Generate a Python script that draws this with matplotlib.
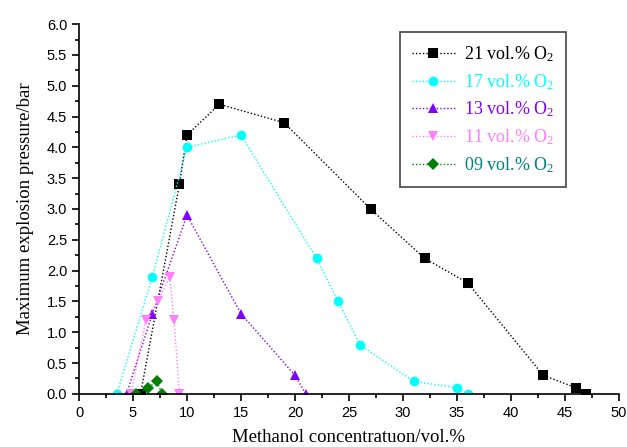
import matplotlib
matplotlib.use("Agg")
import matplotlib.pyplot as plt
from matplotlib.ticker import MultipleLocator, FormatStrFormatter

plt.rcParams['mathtext.fontset'] = 'custom'
plt.rcParams['mathtext.rm'] = 'Liberation Serif'
plt.rcParams['mathtext.it'] = 'Liberation Serif:italic'

x21 = [5.7, 9.3, 10, 13, 19, 27, 32, 36, 43, 46, 47]
y21 = [0, 3.4, 4.2, 4.7, 4.4, 3.0, 2.2, 1.8, 0.3, 0.1, 0]
x17 = [3.5, 6.8, 10, 15, 22, 24, 26, 31, 35, 36]
y17 = [0, 1.9, 4.0, 4.2, 2.2, 1.5, 0.8, 0.2, 0.1, 0]
x13 = [4.4, 6.8, 10, 15, 20, 21]
y13 = [0, 1.3, 2.9, 1.3, 0.3, 0]
x11 = [4.8, 6.2, 7.3, 8.4, 8.8, 9.3]
y11 = [0, 1.2, 1.5, 1.9, 1.2, 0]
x09 = [5.3, 6.4, 7.2, 7.7]
y09 = [0, 0.1, 0.2, 0]

labels = ["21 vol.% O$_2$", "17 vol.% O$_2$", "13 vol.% O$_2$", "11 vol.% O$_2$", "09 vol.% O$_2$"]
series = [(x21, y21), (x17, y17), (x13, y13), (x11, y11), (x09, y09)]
colors = ["#000000", "#00FFFF", "#8000FF", "#FF80FF", "#008000"]
text_colors = ["#000000", "#00FFFF", "#8000FF", "#FF80FF", "#008080"]
markers = ["s", "o", "^", "v", "D"]
msizes = [6.5, 7, 7.5, 7.5, 6.5]

fig = plt.figure(figsize=(6.27, 4.47), dpi=100)
ax = fig.add_axes([0.126, 0.119, 0.861, 0.827])

for (xs, ys), c, m, ms, lab in zip(series, colors, markers, msizes, labels):
    ax.plot(xs, ys, linestyle=(0, (1, 1.5)), linewidth=1.0, color=c,
            marker=m, markersize=ms, markeredgewidth=0, label=lab)

ax.set_xlim(0, 50)
ax.set_ylim(0, 6.0)
ax.xaxis.set_major_locator(MultipleLocator(5))
ax.xaxis.set_minor_locator(MultipleLocator(2.5))
ax.yaxis.set_major_locator(MultipleLocator(0.5))
ax.yaxis.set_minor_locator(MultipleLocator(0.25))
ax.yaxis.set_major_formatter(FormatStrFormatter('%.1f'))
ax.spines['top'].set_visible(False)
ax.spines['right'].set_visible(False)
for s in ['left', 'bottom']:
    ax.spines[s].set_linewidth(1.2)
ax.tick_params(which='major', direction='out', length=5, width=1.2,
               labelsize=10.5, labelfontfamily='Liberation Sans')
ax.tick_params(which='minor', direction='out', length=3, width=1.2)

serif = 'Liberation Serif'
ax.set_xlabel("Methanol concentratuon/vol.%", fontfamily=serif, fontsize=13.5, labelpad=7)
ax.set_ylabel("Maximum explosion pressure/bar", fontfamily=serif, fontsize=13.5, labelpad=9)

leg = ax.legend(loc='upper right', bbox_to_anchor=(0.902, 0.978), prop={'family': serif, 'size': 13},
                fancybox=False, framealpha=1, edgecolor='#444444', handlelength=2.4,
                labelspacing=0.45, borderpad=0.65, handletextpad=0.5, borderaxespad=0)
leg.get_frame().set_linewidth(1.2)
for t, c in zip(leg.get_texts(), text_colors):
    t.set_color(c)

fig.savefig("out.png", dpi=100)
